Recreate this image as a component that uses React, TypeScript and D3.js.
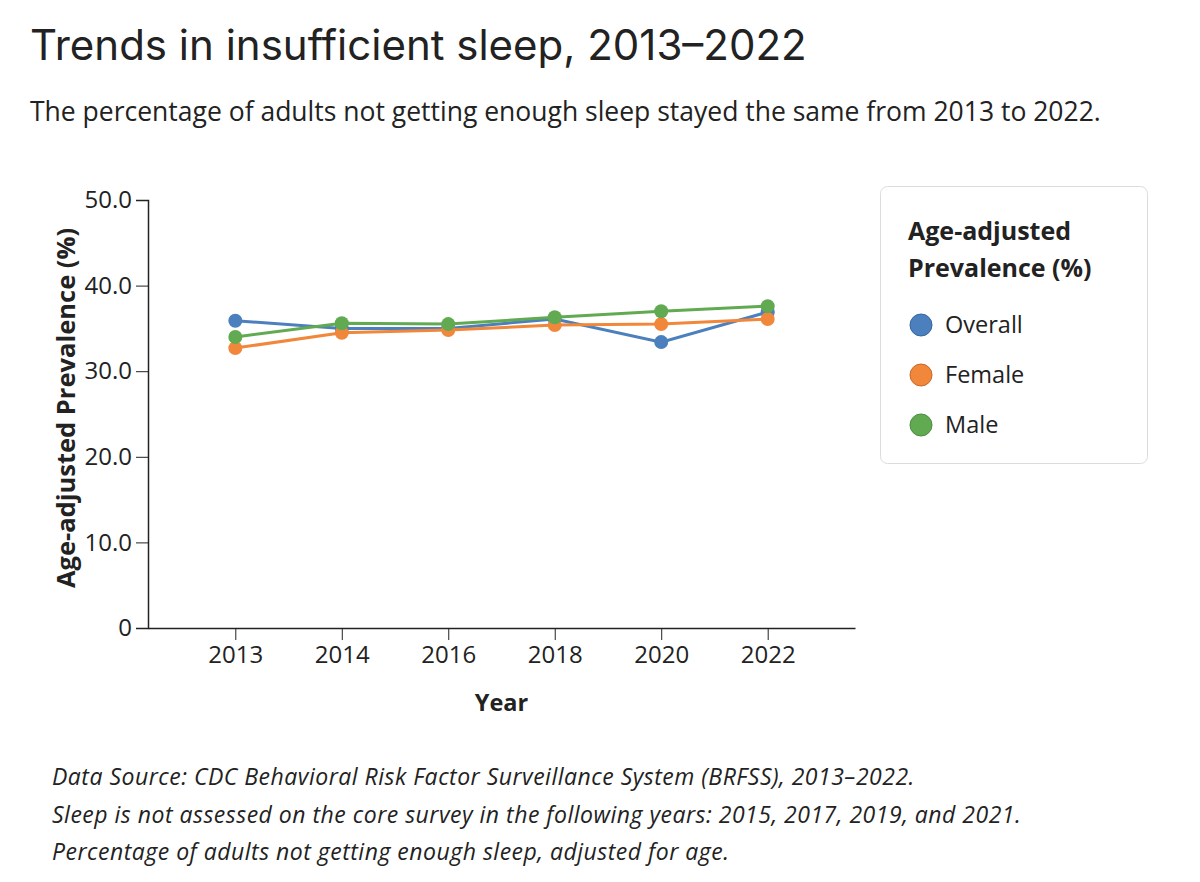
import { useEffect, useRef } from "react";
import * as d3 from "d3";

// years in the survey (sleep question not asked in 2015, 2017, 2019, 2021)
const years = ["2013", "2014", "2016", "2018", "2020", "2022"];
const overall = [35.9, 35.0, 35.0, 36.1, 33.4, 36.9];
const female = [32.7, 34.5, 34.8, 35.4, 35.5, 36.1];
const male = [34.0, 35.6, 35.5, 36.3, 37.0, 37.6];
const yTicks = [0, 10, 20, 30, 40, 50];

const seriesNames = ["Overall", "Female", "Male"];
const seriesColors = ["#4b7fbd", "#f0873a", "#62aa52"];
const seriesStroke = ["#33669f", "#c9662a", "#4a8c3d"];

const W = 1200;
const H = 882;
const margin = { left: 148, right: 855, top: 200, bottom: 628 };
const font = "'Open Sans', 'Noto Sans', sans-serif";

export default function App() {
  const xAxisRef = useRef<SVGGElement>(null);
  const yAxisRef = useRef<SVGGElement>(null);

  const x = d3.scalePoint<string>().domain(years).range([margin.left, margin.right]).padding(0.82);
  const y = d3.scaleLinear().domain([0, 50]).range([margin.bottom, margin.top]);

  const series = [overall, female, male];
  const line = d3
    .line<number>()
    .x((_, i) => x(years[i]) as number)
    .y((d) => y(d));

  useEffect(() => {
    const xa = d3.select(xAxisRef.current!);
    xa.call(d3.axisBottom(x).tickSize(12).tickPadding(6).tickSizeOuter(0));
    xa.select(".domain").attr("stroke", "#222").attr("stroke-width", 1.5);
    xa.selectAll(".tick line").attr("stroke", "#222");
    xa.selectAll(".tick text").attr("font-size", 24).attr("font-family", font).attr("fill", "#222");

    const ya = d3.select(yAxisRef.current!);
    ya.call(
      d3
        .axisLeft(y)
        .tickValues(yTicks)
        .tickFormat((d) => (d === 0 ? "0" : d3.format(".1f")(d as number)))
        .tickSize(12)
        .tickPadding(4)
        .tickSizeOuter(12)
    );
    ya.select(".domain").attr("stroke", "#222").attr("stroke-width", 1.5);
    ya.selectAll(".tick line").attr("stroke", "#222");
    ya.selectAll(".tick text").attr("font-size", 24).attr("font-family", font).attr("fill", "#222");
  }, []);

  return (
    <div style={{ position: "absolute", left: 0, top: 0 }}>
      <svg width={W} height={H} style={{ display: "block", background: "#fff" }}>
        <text x={30} y={60} fontSize={42} fontFamily="Inter, 'Noto Sans', sans-serif" fill="#222">
          Trends in insufficient sleep, 2013–2022
        </text>
        <text x={30} y={121} fontSize={26.5} fontFamily={font} fill="#222">
          The percentage of adults not getting enough sleep stayed the same from 2013 to 2022.
        </text>

        <g ref={xAxisRef} transform={`translate(0,${margin.bottom})`} />
        <g ref={yAxisRef} transform={`translate(${margin.left},0)`} />

        <text
          transform="translate(75,408) rotate(-90)"
          textAnchor="middle"
          fontSize={25.5}
          fontWeight="bold"
          fontFamily={font}
          fill="#222"
        >
          Age-adjusted Prevalence (%)
        </text>
        <text x={(margin.left + margin.right) / 2} y={711} textAnchor="middle" fontSize={23.5} fontWeight="bold" fontFamily={font} fill="#222">
          Year
        </text>

        {series.map((s, k) => (
          <g key={seriesNames[k]}>
            <path d={line(s) ?? undefined} fill="none" stroke={seriesColors[k]} strokeWidth={3} />
            {s.map((v, i) => (
              <circle key={i} cx={x(years[i])} cy={y(v)} r={7} fill={seriesColors[k]} />
            ))}
          </g>
        ))}

        <rect x={880.5} y={186.5} width={267} height={277} rx={7} fill="#fff" stroke="#dcdcdc" />
        <text x={908} y={240} fontSize={25} fontWeight="bold" fontFamily={font} fill="#222">
          Age-adjusted
        </text>
        <text x={908} y={277} fontSize={25} fontWeight="bold" fontFamily={font} fill="#222">
          Prevalence (%)
        </text>
        {seriesNames.map((n, k) => (
          <g key={n} transform={`translate(0,${325 + k * 50})`}>
            <circle cx={921} cy={0} r={11} fill={seriesColors[k]} stroke={seriesStroke[k]} strokeWidth={1} />
            <text x={945} y={8} fontSize={23.5} fontFamily={font} fill="#222">
              {n}
            </text>
          </g>
        ))}

        <g fontSize={23} fontStyle="italic" fontFamily={font} fill="#222" letterSpacing={0.5}>
          <text x={52} y={785}>Data Source: CDC Behavioral Risk Factor Surveillance System (BRFSS), 2013–2022.</text>
          <text x={52} y={823}>Sleep is not assessed on the core survey in the following years: 2015, 2017, 2019, and 2021.</text>
          <text x={52} y={860}>Percentage of adults not getting enough sleep, adjusted for age.</text>
        </g>
      </svg>
    </div>
  );
}
